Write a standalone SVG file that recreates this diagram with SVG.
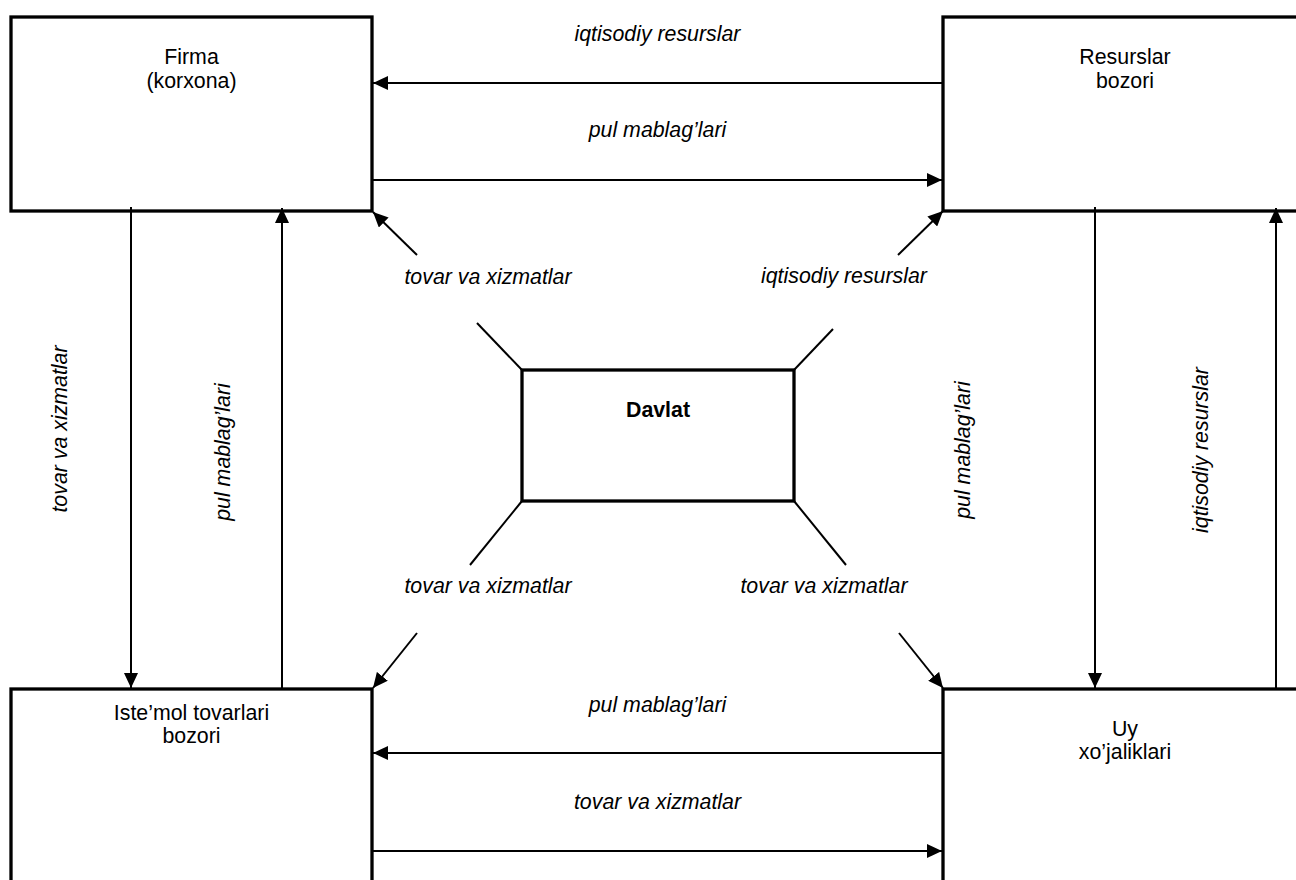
<svg xmlns="http://www.w3.org/2000/svg" width="1296" height="880" viewBox="0 0 1296 880">
<style>
.box{fill:#fff;stroke:#000;stroke-width:3.3}
.ln{fill:none;stroke:#000;stroke-width:2}
.lbl{font-family:"Liberation Sans",Arial,sans-serif;font-size:21.33px;font-style:italic;fill:#000;text-anchor:middle}
.nt{font-family:"Liberation Sans",Arial,sans-serif;font-size:21.33px;fill:#000;text-anchor:middle}
.bold{font-weight:bold}
</style>
<defs>
<marker id="ah" viewBox="0 0 15 14" refX="15" refY="7" markerWidth="15" markerHeight="14" orient="auto" markerUnits="userSpaceOnUse">
<path d="M0,0 L15,7 L0,14 z" fill="#000"/>
</marker>
</defs>
<rect width="1296" height="880" fill="#fff"/>
<g id="firma">
<rect class="box" x="11" y="17" width="361" height="194"/>
<text class="nt" x="191.5" y="64">Firma</text>
<text class="nt" x="191.5" y="88">(korxona)</text>
</g>
<g id="resurslar">
<rect class="box" x="943" y="17" width="360" height="194"/>
<text class="nt" x="1125" y="64">Resurslar</text>
<text class="nt" x="1125" y="88">bozori</text>
</g>
<g id="istemol">
<rect class="box" x="11" y="689" width="361" height="200"/>
<text class="nt" x="191.5" y="720">Iste’mol tovarlari</text>
<text class="nt" x="191.5" y="743">bozori</text>
</g>
<g id="uy">
<rect class="box" x="943" y="689" width="360" height="200"/>
<text class="nt" x="1125" y="736">Uy</text>
<text class="nt" x="1125" y="759">xo’jaliklari</text>
</g>
<g id="davlat">
<rect class="box" x="522" y="370" width="272" height="131"/>
<text class="nt bold" x="658" y="417">Davlat</text>
</g>
<g id="connectors">
<line class="ln" x1="943" y1="83" x2="373" y2="83" marker-end="url(#ah)"/>
<line class="ln" x1="372" y1="180" x2="942" y2="180" marker-end="url(#ah)"/>
<line class="ln" x1="943" y1="753" x2="373" y2="753" marker-end="url(#ah)"/>
<line class="ln" x1="372" y1="851" x2="942" y2="851" marker-end="url(#ah)"/>
<line class="ln" x1="131" y1="207" x2="131" y2="688" marker-end="url(#ah)"/>
<line class="ln" x1="282" y1="689" x2="282" y2="208" marker-end="url(#ah)"/>
<line class="ln" x1="1095" y1="207" x2="1095" y2="688" marker-end="url(#ah)"/>
<line class="ln" x1="1276" y1="689" x2="1276" y2="208" marker-end="url(#ah)"/>
<line class="ln" x1="522" y1="370" x2="477" y2="323"/>
<line class="ln" x1="417" y1="255" x2="373" y2="212" marker-end="url(#ah)"/>
<line class="ln" x1="794" y1="370" x2="833" y2="329"/>
<line class="ln" x1="898" y1="255" x2="943" y2="211" marker-end="url(#ah)"/>
<line class="ln" x1="522" y1="501" x2="470" y2="565"/>
<line class="ln" x1="417" y1="633" x2="373" y2="688" marker-end="url(#ah)"/>
<line class="ln" x1="794" y1="501" x2="846" y2="565"/>
<line class="ln" x1="899" y1="633" x2="943" y2="688" marker-end="url(#ah)"/>
</g>
<g id="labels">
<text class="lbl" x="657.5" y="41">iqtisodiy resurslar</text>
<text class="lbl" x="657.5" y="137">pul mablag’lari</text>
<text class="lbl" x="657.5" y="712">pul mablag’lari</text>
<text class="lbl" x="657.5" y="809">tovar va xizmatlar</text>
<text class="lbl" x="488" y="284">tovar va xizmatlar</text>
<text class="lbl" x="844" y="283">iqtisodiy resurslar</text>
<text class="lbl" x="488" y="593">tovar va xizmatlar</text>
<text class="lbl" x="824" y="593">tovar va xizmatlar</text>
<text class="lbl" transform="translate(67,429) rotate(-90)">tovar va xizmatlar</text>
<text class="lbl" transform="translate(230,452) rotate(-90)">pul mablag’lari</text>
<text class="lbl" transform="translate(970,450) rotate(-90)">pul mablag’lari</text>
<text class="lbl" transform="translate(1208,450) rotate(-90)">iqtisodiy resurslar</text>
</g>
</svg>
